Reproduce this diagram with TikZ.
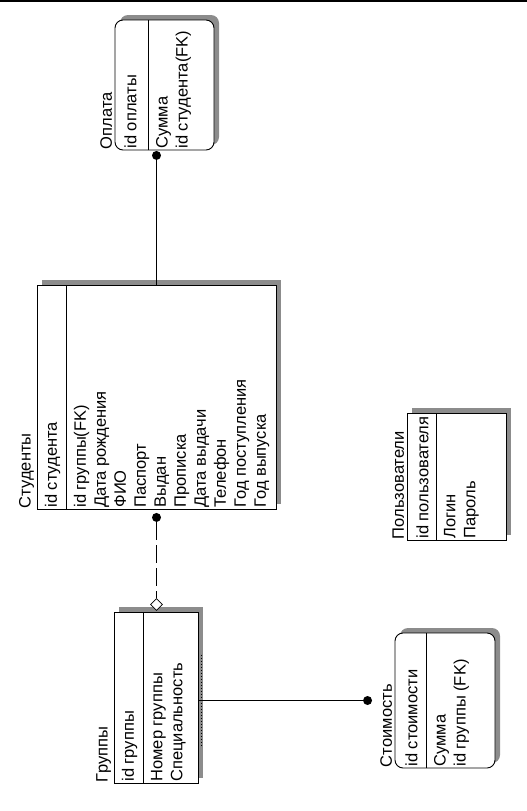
\documentclass[tikz,border=0pt]{standalone}
\usepackage{fontspec}
\setmainfont{Liberation Sans}
\usetikzlibrary{shapes.geometric,shadows,calc}

\begin{document}
\begin{tikzpicture}[x=1pt, y=-1pt, line width=0.9pt,
        entity/.style args={#1x#2}{draw, fill=white, minimum width=#1pt, minimum height=#2pt, inner sep=0pt,
            drop shadow={shadow xshift=5pt, shadow yshift=5pt, fill=black!45, opacity=1}},
        dependent/.style={rounded corners=8pt},
        ename/.style={rotate=90, anchor=south west, inner sep=1pt, font=\fontsize{16.5}{20}\selectfont},
        keyattr/.style={rotate=90, anchor=west, inner sep=0pt, font=\fontsize{16.5}{20}\selectfont},
        attrs/.style={rotate=90, anchor=north west, inner sep=0pt, align=left, font=\fontsize{16.5}{20}\selectfont},
        dot/.style={circle, fill=black, inner sep=0pt, minimum size=9pt},
        nullrel/.style={diamond, draw, fill=white, inner sep=0pt, minimum size=12pt, line width=0.7pt},
        nonident/.style={dash pattern=on 18pt off 5pt}]

    \useasboundingbox (0,0) rectangle (527,811);
    \draw[line width=2pt] (0,1) -- (527,1);

    % entities
    \node [entity=99x130, dependent] (opl) at (164.5,85) {};
    \node [entity=239x224] (stud) at (156.5,397) {};
    \node [entity=84x171] (grp) at (156,697.5) {};
    \node [entity=100x135, dependent] (cost) at (445,700.5) {};
    \node [entity=99x127] (user) at (456.5,476.5) {};

    \coordinate (opl-d) at ($(opl.south west)+(34,0)$);
    \coordinate (stud-d) at ($(stud.south west)+(30,0)$);
    \coordinate (grp-d) at ($(grp.south west)+(30,0)$);
    \coordinate (cost-d) at ($(cost.south west)+(32,0)$);
    \coordinate (user-d) at ($(user.south west)+(30,0)$);

    \foreach \e in {opl,stud,grp,cost,user}
        \draw (\e-d) -- (\e-d |- \e.north);

    % labels
    \node [ename] (opl-name) at ($(opl.south west)+(-1,0)$) {Оплата};
    \node [keyattr] (opl-key) at ($(opl.south west)+(16,-1.5)$) {id оплаты};
    \node [attrs] (opl-attr) at ($(opl-d)+(7,-1.5)$) {Сумма\\id студента(FK)};

    \node [ename] (stud-name) at ($(stud.south west)+(-1,0)$) {Студенты};
    \node [keyattr] (stud-key) at ($(stud.south west)+(16,-1.5)$) {id студента};
    \node [attrs] (stud-attr) at ($(stud-d)+(7,-1.5)$) {id группы(FK)\\Дата рождения\\ФИО\\Паспорт\\Выдан\\Прописка\\Дата выдачи\\Телефон\\Год поступления\\Год выпуска};

    \node [ename] (grp-name) at ($(grp.south west)+(-1,0)$) {Группы};
    \node [keyattr] (grp-key) at ($(grp.south west)+(16,-1.5)$) {id группы};
    \node [attrs] (grp-attr) at ($(grp-d)+(7,-1.5)$) {Номер группы\\Специальность};

    \node [ename] (cost-name) at ($(cost.south west)+(-1,0)$) {Стоимость};
    \node [keyattr] (cost-key) at ($(cost.south west)+(17,-1.5)$) {id стоимости};
    \node [attrs] (cost-attr) at ($(cost-d)+(7,-1.5)$) {Сумма\\id группы (FK)};

    \node [ename] (user-name) at ($(user.south west)+(-1,0)$) {Пользователи};
    \node [keyattr] (user-key) at ($(user.south west)+(16,-1.5)$) {id пользователя};
    \node [attrs] (user-attr) at ($(user-d)+(7,-1.5)$) {Логин\\Пароль};

    % relationships
    \node [dot, yshift=-5pt] (opl-dot) at (stud.north |- opl.south) {};
    \draw (stud.north) -- (opl-dot);

    \node [dot, yshift=-8pt] (stud-dot) at (stud.south) {};
    \node [nullrel, yshift=7pt] (grp-null) at (stud.south |- grp.north) {};
    \draw [nonident] (stud-dot) -- (grp-null);

    \node [dot] (cost-dot) at ($(cost.west)+(-27,0)$) {};
    \draw (cost-dot) -- (cost-dot -| grp.east);
    \draw [line width=1.6pt, dash pattern=on 1.5pt off 1.5pt] ($(grp.east)+(3,-43)$) -- ($(grp.east)+(3,48)$);
\end{tikzpicture}
\end{document}
